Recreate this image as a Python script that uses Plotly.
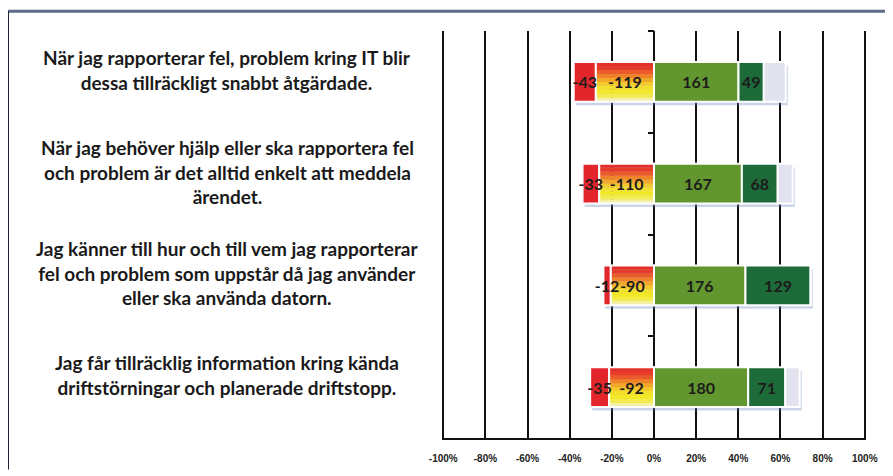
import plotly.graph_objects as go

# Statements, top to bottom
statements = [
    "När jag rapporterar fel, problem kring IT blir<br>dessa tillräckligt snabbt åtgärdade.",
    "När jag behöver hjälp eller ska rapportera fel<br>och problem är det alltid enkelt att meddela<br>ärendet.",
    "Jag känner till hur och till vem jag rapporterar<br>fel och problem som uppstår då jag använder<br>eller ska använda datorn.",
    "Jag får tillräcklig information kring kända<br>driftstörningar och planerade driftstopp.",
]
rows = [3, 2, 1, 0]

# segment shares in percent
very_neg_pct = [10.5, 7.9, 3.5, 9.0]
neg_pct = [27.6, 26.0, 20.5, 21.3]
pos_pct = [40.1, 41.7, 43.4, 44.7]
very_pos_pct = [12.0, 17.0, 30.9, 17.6]
unknown_pct = [10.4, 7.1, 0.0, 6.8]

# counts printed on the segments
very_neg_n = [-43, -33, -12, -35]
neg_n = [-119, -110, -90, -92]
pos_n = [161, 167, 176, 180]
very_pos_n = [49, 68, 129, 71]

x_ticks = [-100, -80, -60, -40, -20, 0, 20, 40, 60, 80, 100]
x_labels = ["-100%", "-80%", "-60%", "-40%", "-20%", "0%", "20%", "40%", "60%", "80%", "100%"]

BAR_W = 0.39
RED = "#e3262b"
GREEN = "#62962f"
DARK_GREEN = "#1e6b3a"
GREY = "#e3e3f0"
# red->yellow gradient, bottom band first
GRADIENT = ["#f5f0a8", "#f3ec50", "#f2e82a", "#f2e02a", "#f3c92b",
            "#f2a82a", "#ef832a", "#ea5a2b", "#e53c2b", "#e3302b"]
BAR_FONT = dict(family="Lato, Open Sans, sans-serif", size=16, color="#1c1c1c", weight="bold")
LABEL_FONT = dict(family="Lato, Open Sans, sans-serif", size=19, color="#1a1a1a", weight="bold")

neg_start = [-n for n in neg_pct]
vneg_start = [-(a + b) for a, b in zip(neg_pct, very_neg_pct)]
vpos_start = pos_pct
unk_start = [a + b for a, b in zip(pos_pct, very_pos_pct)]
zeros = [0] * len(rows)
total = [a + b + c + d + e for a, b, c, d, e in zip(very_neg_pct, neg_pct, pos_pct, very_pos_pct, unknown_pct)]

fig = go.Figure()

# soft drop shadow under each bar
fig.add_trace(go.Bar(
    y=rows, x=total, base=[v + 1.0 for v in vneg_start], orientation="h",
    width=BAR_W, offset=-BAR_W / 2 - 0.035,
    marker=dict(color="rgba(110,135,190,0.35)", line=dict(width=0)),
    hoverinfo="skip", showlegend=False,
))


def segment(vals, start, color):
    fig.add_trace(go.Bar(
        y=rows, x=vals, base=start, orientation="h",
        width=BAR_W, offset=-BAR_W / 2,
        marker=dict(color=color, line=dict(color="white", width=2)),
        hoverinfo="skip", showlegend=False,
    ))


def labels(vals, start, text):
    fig.add_trace(go.Bar(
        y=rows, x=vals, base=start, orientation="h",
        width=BAR_W, offset=-BAR_W / 2,
        marker=dict(color="rgba(0,0,0,0)", line=dict(width=0)),
        text=text, textposition="inside", insidetextanchor="middle",
        textangle=0, constraintext="none", textfont=BAR_FONT,
        cliponaxis=False, hoverinfo="skip", showlegend=False,
    ))


segment(very_neg_pct, vneg_start, RED)

# gradient segment built from stacked bands
n_bands = len(GRADIENT)
for i, col in enumerate(GRADIENT):
    fig.add_trace(go.Bar(
        y=rows, x=neg_pct, base=neg_start, orientation="h",
        width=BAR_W / n_bands + 0.002, offset=-BAR_W / 2 + i * BAR_W / n_bands,
        marker=dict(color=col, line=dict(width=0)),
        hoverinfo="skip", showlegend=False,
    ))
segment(neg_pct, neg_start, "rgba(0,0,0,0)")
segment(pos_pct, zeros, GREEN)
segment(very_pos_pct, vpos_start, DARK_GREEN)
segment(unknown_pct, unk_start, GREY)

labels(very_neg_pct, vneg_start, [str(v) for v in very_neg_n])
labels(neg_pct, neg_start, [str(v) for v in neg_n])
labels(pos_pct, zeros, [str(v) for v in pos_n])
labels(very_pos_pct, vpos_start, [str(v) for v in very_pos_n])

# page body adds 8px around the figure
OFF = 8
W, H = 893 - OFF, 476 - OFF
L, R, T, B = 442 - OFF, 27, 31 - OFF, 33
pw, ph = W - L - R, H - T - B


def px(sx):
    return (sx - OFF - L) / pw


def py(sy):
    return (H - (sy - OFF) - B) / ph


# statement labels on the left
for txt, r in zip(statements, rows):
    fig.add_annotation(
        x=px(227), xref="paper", xanchor="center", y=r, yref="y", yshift=12,
        text=txt, showarrow=False, align="center", font=LABEL_FONT,
    )

# outer frame
fig.add_shape(type="line", xref="paper", yref="paper",
              x0=px(8), x1=px(900), y0=py(11), y1=py(11),
              line=dict(color="#5f6b85", width=3))
fig.add_shape(type="line", xref="paper", yref="paper",
              x0=px(8), x1=px(8), y0=py(11), y1=py(475),
              line=dict(color="#1e2233", width=2))

fig.update_layout(
    barmode="overlay",
    width=W, height=H,
    margin=dict(l=L, r=R, t=T, b=B),
    plot_bgcolor="white", paper_bgcolor="white",
    xaxis=dict(
        range=[-100.6, 100.6], tickvals=x_ticks, ticktext=x_labels,
        showgrid=True, gridcolor="#111111", gridwidth=2, zeroline=False,
        showline=True, linecolor="#111111", linewidth=2,
        ticks="", ticklabelstandoff=10,
        tickfont=dict(family="Liberation Sans, Arial, sans-serif", size=10, color="#222222", weight="bold"),
    ),
    yaxis=dict(
        range=[-0.5, 3.5], anchor="free", position=0.5,
        tickvals=[0.5, 1.5, 2.5, 3.5], ticks="outside", ticklen=6, tickwidth=1.5,
        tickcolor="#111111", showticklabels=False,
        showgrid=False, zeroline=False, showline=False,
    ),
)

fig.write_html("out.html")
